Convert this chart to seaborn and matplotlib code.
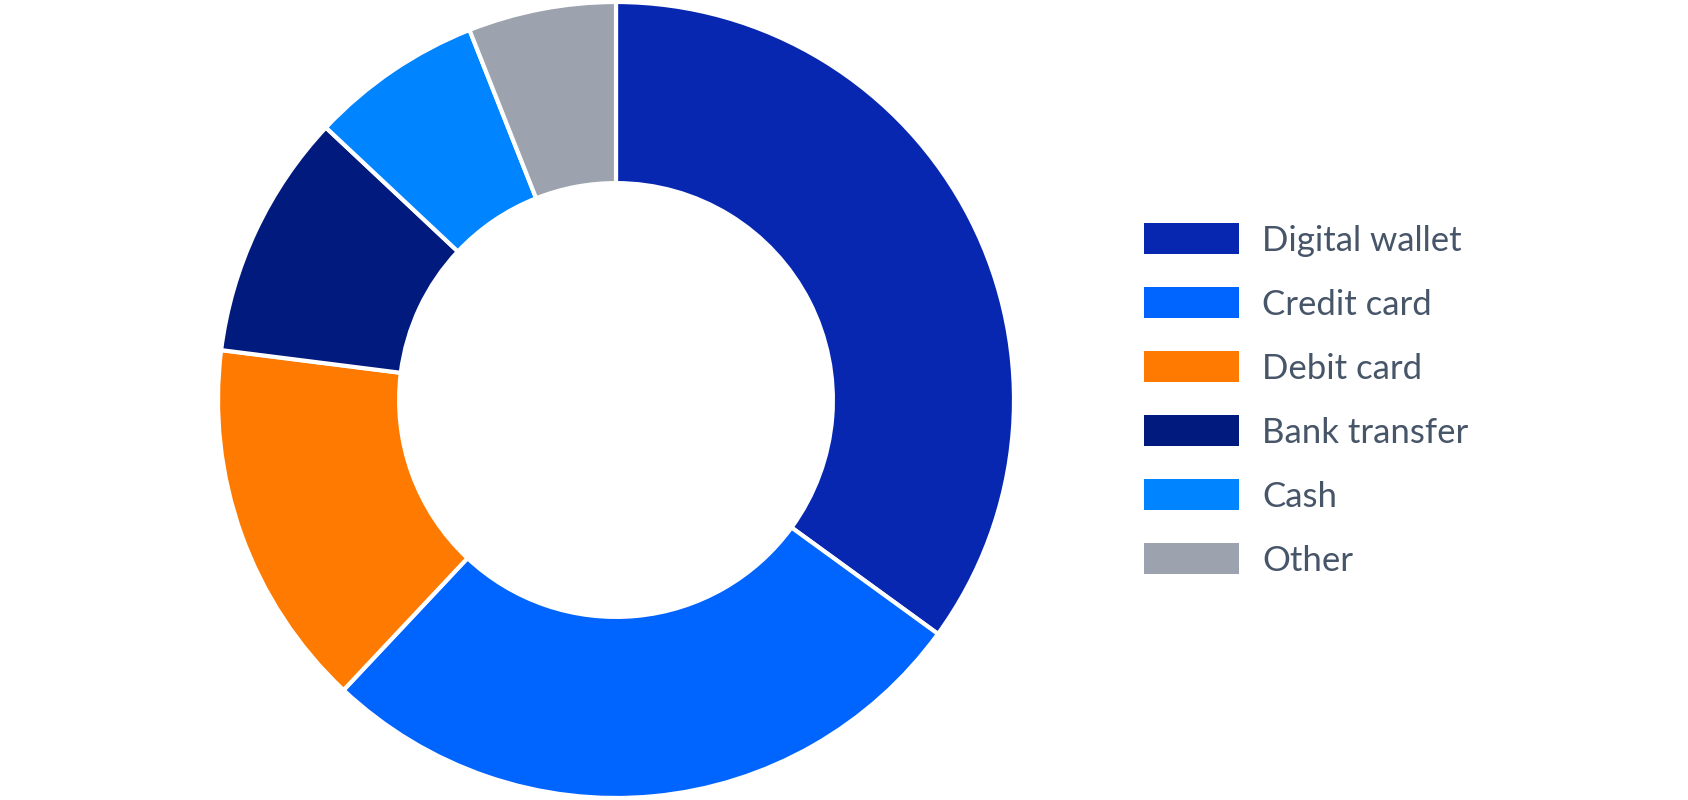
import matplotlib
matplotlib.use("Agg")
import seaborn as sns
import matplotlib.pyplot as plt

sns.set_theme(style="white")
plt.rcParams['font.family'] = ['Lato', 'DejaVu Sans']

methods = ['Digital wallet', 'Credit card', 'Debit card', 'Bank transfer', 'Cash', 'Other']
shares = [35, 27, 15, 10, 7, 6]
colors = sns.color_palette(['#0727B1', '#0064FF', '#FF7A00', '#001A7E', '#0084FF', '#9CA3AF'])

fig = plt.figure(figsize=(16.88, 8), dpi=100)
ax = fig.add_axes([220 / 1688, 4 / 800, 792 / 1688, 792 / 800])

wedges, _ = ax.pie(shares, colors=colors, startangle=90, counterclock=False,
                   wedgeprops=dict(width=0.455, edgecolor='white', linewidth=3))
ax.set_xlim(-0.995, 0.995)
ax.set_ylim(-0.995, 0.995)
ax.set_aspect('equal')

leg = fig.legend(wedges, methods, loc='center left', bbox_to_anchor=(1144 / 1688, 0.5),
                 frameon=False, fontsize=25, handlelength=2.75, handleheight=1.0,
                 handletextpad=0.65, labelspacing=0.88, borderpad=0, borderaxespad=0)
for t in leg.get_texts():
    t.set_color('#475569')
for h in leg.legend_handles:
    h.set_edgecolor('none')

fig.savefig('out.png', dpi=100)
